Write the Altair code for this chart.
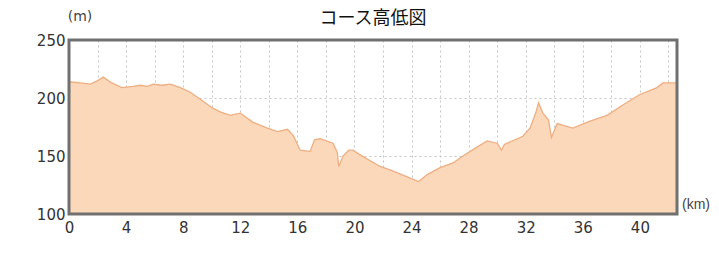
import altair as alt
import pandas as pd

km = [0, 0.8, 1.5, 2.0, 2.4, 3.0, 3.7, 4.5, 5.0, 5.5, 5.9, 6.5, 7.1, 7.8, 8.5, 9.2,
      10.1, 10.6, 11.3, 12.0, 12.9, 13.9, 14.6, 15.3, 15.7, 16.2, 16.9, 17.2, 17.6,
      18.5, 18.8, 18.9, 19.2, 19.6, 19.9, 20.4, 21.8, 22.5, 23.7, 24.5, 25.1, 26.0,
      26.9, 27.6, 28.5, 29.3, 30.0, 30.3, 30.5, 31.8, 32.3, 32.7, 32.9, 33.2, 33.6,
      33.8, 34.2, 35.3, 36.5, 37.7, 38.8, 40.0, 41.2, 41.6, 42.6]
elev = [214, 213, 212, 215, 218, 213, 209, 210, 211, 210, 212, 211, 212, 209, 205, 199,
        191, 188, 185, 187, 179, 174, 171, 173, 168, 155, 154, 164, 165,
        161, 153, 141, 150, 155, 155, 151, 141, 138, 132, 128, 134, 140,
        144, 150, 157, 163, 161, 155, 160, 167, 174, 187, 196, 187, 181,
        166, 178, 174, 180, 185, 194, 203, 209, 213, 213]

x_ticks = list(range(0, 43, 2))
y_ticks = [100, 150, 200, 250]
title = "コース高低図"
y_unit = "(m)"
x_unit = "(km)"

df = pd.DataFrame({"km": km, "elev": elev})

FONT = "DejaVu Sans"
W, H = 608, 174

base = alt.Chart(df)
area = base.mark_area(
    color="#fbd8ba", line={"color": "#eeae82", "strokeWidth": 1.3}, opacity=1, clip=True
).encode(
    x=alt.X("km:Q", scale=alt.Scale(domain=[0, 42.6], nice=False, zero=False),
            axis=alt.Axis(values=x_ticks, title=None, grid=True, ticks=False, domain=False,
                          labelExpr="datum.value % 4 == 0 ? datum.label : ''",
                          labelFontSize=15, labelColor="#333333", labelFont=FONT,
                          labelPadding=6, gridColor="#c4c4c4", gridDash=[2, 3],
                          gridWidth=1, labelFlush=False, labelOverlap=False)),
    y=alt.Y("elev:Q", scale=alt.Scale(domain=[100, 250], nice=False, zero=False),
            axis=alt.Axis(values=y_ticks, title=None, grid=True, ticks=False, domain=False,
                          labelFontSize=15, labelColor="#333333", labelFont=FONT,
                          labelPadding=4, gridColor="#c4c4c4", gridDash=[2, 3],
                          gridWidth=1, labelFlush=False, labelOverlap=False)),
)

frame = alt.Chart(pd.DataFrame({"a": [0]})).mark_rect(
    fill=None, stroke="#707070", strokeWidth=3
).encode(x=alt.value(0), x2=alt.value(W), y=alt.value(0), y2=alt.value(H))

title_t = alt.Chart(pd.DataFrame({"t": [title]})).mark_text(
    font="Noto Sans CJK JP", fontSize=18, color="#111111", align="center", baseline="middle"
).encode(x=alt.value(W / 2), y=alt.value(-21), text="t:N")

m_label = alt.Chart(pd.DataFrame({"t": [y_unit]})).mark_text(
    font=FONT, fontSize=14, color="#444444", align="center", baseline="middle"
).encode(x=alt.value(11), y=alt.value(-23), text="t:N")

km_label = alt.Chart(pd.DataFrame({"t": [x_unit]})).mark_text(
    font="Liberation Sans", fontSize=14, color="#444444", align="left", baseline="middle"
).encode(x=alt.value(613), y=alt.value(165), text="t:N")

chart = alt.layer(area, frame, title_t, m_label, km_label).properties(
    width=W,
    height=H,
    padding={"left": 61, "top": 32, "right": 33, "bottom": 25},
    autosize=alt.AutoSizeParams(type="none"),
).configure_view(
    stroke=None
).configure(background="white")

chart.save("out.html", embed_options={"renderer": "svg", "actions": False})
